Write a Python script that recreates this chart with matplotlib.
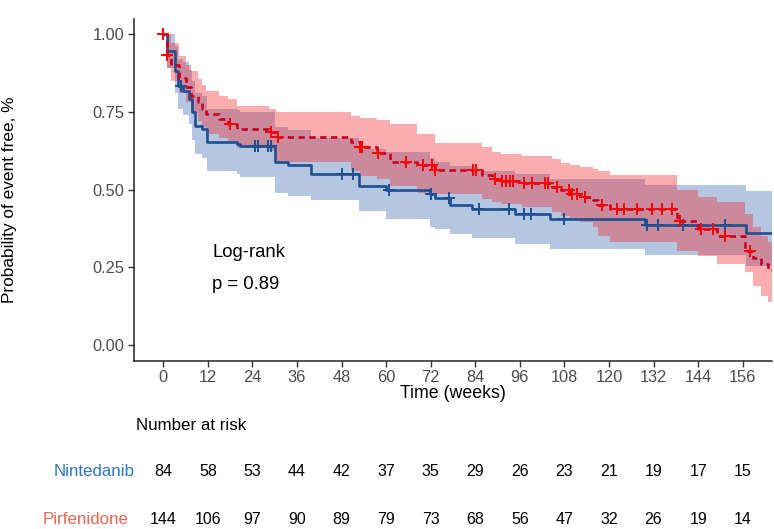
import numpy as np
import matplotlib
matplotlib.use("Agg")
import matplotlib.pyplot as plt
import matplotlib.transforms as mtransforms

plt.rcParams['font.family'] = ['Liberation Sans', 'DejaVu Sans']

# ---- Nintedanib (blue) : step times, survival, CI ----
nin_t = [0, 0.9, 3.1, 4.0, 5.4, 6.8, 7.7, 8.6, 10.3, 11.7, 19.8, 20.7, 30.0, 33.7,
         39.9, 52.6, 60.1, 71.8, 73.2, 77.2, 83.1, 94.8, 104.1, 129.7, 157.0]
nin_s = [1.0, 0.944, 0.882, 0.834, 0.818, 0.79, 0.75, 0.705, 0.694, 0.654, 0.646, 0.639,
         0.589, 0.579, 0.55, 0.51, 0.50, 0.486, 0.472, 0.45, 0.437, 0.421, 0.405, 0.386, 0.36]
nin_hi = [1.0, 1.0, 0.96, 0.92, 0.91, 0.885, 0.85, 0.81, 0.80, 0.76, 0.755, 0.75,
          0.70, 0.69, 0.665, 0.63, 0.62, 0.60, 0.59, 0.575, 0.56, 0.55, 0.535, 0.515, 0.494]
nin_lo = [1.0, 0.89, 0.81, 0.76, 0.74, 0.71, 0.66, 0.615, 0.60, 0.56, 0.55, 0.54,
          0.49, 0.48, 0.465, 0.43, 0.405, 0.38, 0.373, 0.357, 0.343, 0.325, 0.309, 0.29, 0.255]
nin_cens = [4.9, 24.7, 25.6, 28.1, 29.0, 48.1, 51.2, 60.9, 72.1, 77.0, 84.9, 93.1,
            97.0, 98.9, 108.0, 130.1, 133.3, 139.8, 151.1]

# ---- Pirfenidone (red) ----
pir_t = [0, 0.9, 2.2, 4.2, 6.2, 7.5, 9.3, 10.3, 11.5, 15.1, 17.3, 19.9, 28.4, 30.4,
         50.6, 53.0, 57.6, 61.0, 68.2, 73.2, 85.7, 88.4, 90.9, 96.5, 104.6, 107.2,
         109.6, 112.2, 115.8, 117.1, 120.3, 138.2, 144.0, 149.0, 156.6, 158.9, 160.9, 162.9]
pir_s = [1.0, 0.932, 0.90, 0.86, 0.83, 0.80, 0.78, 0.76, 0.743, 0.727, 0.71, 0.694, 0.684,
         0.668, 0.652, 0.636, 0.617, 0.587, 0.579, 0.564, 0.548, 0.534, 0.526, 0.52, 0.509,
         0.498, 0.487, 0.477, 0.465, 0.45, 0.437, 0.40, 0.373, 0.35, 0.303, 0.28, 0.26, 0.24]
pir_hi = [1.0, 1.0, 0.97, 0.93, 0.90, 0.88, 0.855, 0.835, 0.818, 0.80, 0.79, 0.77, 0.76,
          0.748, 0.737, 0.73, 0.725, 0.71, 0.678, 0.65, 0.636, 0.62, 0.615, 0.609, 0.597,
          0.585, 0.578, 0.571, 0.565, 0.56, 0.548, 0.50, 0.475, 0.46, 0.42, 0.38, 0.35, 0.33]
pir_lo = [1.0, 0.89, 0.85, 0.81, 0.78, 0.745, 0.72, 0.70, 0.68, 0.665, 0.65, 0.635, 0.625,
          0.59, 0.56, 0.545, 0.534, 0.51, 0.49, 0.486, 0.47, 0.459, 0.455, 0.445, 0.427,
          0.416, 0.405, 0.395, 0.38, 0.351, 0.33, 0.303, 0.287, 0.26, 0.234, 0.19, 0.158, 0.14]
pir_cens = [0.0, 0.95, 17.9, 29.0, 30.8, 53.0, 53.6, 57.9, 65.3, 70.0, 72.3, 73.2, 83.3,
            84.1, 89.3, 91.1, 92.4, 93.3, 94.2, 97.0, 99.2, 102.8, 103.7, 105.9, 109.1,
            110.0, 111.3, 113.5, 118.1, 122.1, 124.1, 127.6, 131.5, 134.2, 136.9, 139.1,
            144.9, 148.1, 151.1, 157.9]

risk_times = [0, 12, 24, 36, 48, 60, 72, 84, 96, 108, 120, 132, 144, 156]
nin_risk = [84, 58, 53, 44, 42, 37, 35, 29, 26, 23, 21, 19, 17, 15]
pir_risk = [144, 106, 97, 90, 89, 79, 73, 68, 56, 47, 32, 26, 19, 14]

XMAX = 163.8

fig = plt.figure(figsize=(7.74, 5.29), dpi=100)
ax = fig.add_axes([0.1735, 0.3181, 0.997 - 0.1735, 0.9635 - 0.3181])


def draw_group(t, s, lo, hi, cens, band_col, band_alpha, line_col, mark_col, ls):
    t = np.array(t + [XMAX])
    s = np.array(s + [s[-1]])
    lo = np.array(lo + [lo[-1]])
    hi = np.array(hi + [hi[-1]])
    ax.fill_between(t, lo, hi, step='post', color=band_col, alpha=band_alpha, lw=0)
    line, = ax.step(t, s, where='post', color=line_col, lw=1.9)
    if ls == 'dashed':
        line.set_dashes((2.4, 1.7))
    c = np.array(cens)
    idx = np.searchsorted(t, c, side='right') - 1
    ax.plot(c, s[idx], '+', color=mark_col, ms=8, mew=1.4)


# blue first, red drawn on top (blue line shows through the red band)
draw_group(nin_t, nin_s, nin_lo, nin_hi, nin_cens, '#2A5CA8', 0.35, '#1D4F91', '#1D4F91', 'solid')
draw_group(pir_t, pir_s, pir_lo, pir_hi, pir_cens, '#F0282D', 0.38, '#C8001E', '#FF0000', 'dashed')

ax.set_xlim(-7.8, XMAX)
ax.set_ylim(-0.05, 1.047)
ax.set_xticks(risk_times)
ax.set_yticks([0, 0.25, 0.5, 0.75, 1.0])
ax.set_yticklabels(['0.00', '0.25', '0.50', '0.75', '1.00'])
for side in ['top', 'right']:
    ax.spines[side].set_visible(False)
for side in ['left', 'bottom']:
    ax.spines[side].set_linewidth(1.1)
    ax.spines[side].set_color('#222222')
ax.tick_params(axis='both', direction='out', length=4, width=1, color='#333333',
               labelsize=11.8, labelcolor='#4D4D4D', pad=3)

ax.set_xlabel('Time (weeks)', fontsize=12.8, labelpad=0)

H = 529.0
fig.text(10 / 774, 1 - 200 / H, 'Probability of event free, %', fontsize=12.4,
         rotation=90, ha='center', va='center')

ax.text(13.2, 0.297, 'Log-rank', fontsize=13.3, va='center', ha='left')
ax.text(13.2, 0.196, 'p = 0.89', fontsize=13.3, va='center', ha='left')

# number at risk table
fig.text(136 / 774, 1 - 425 / H, 'Number at risk', fontsize=12.2, va='center', ha='left')
fig.text(135 / 774, 1 - 471.5 / H, 'Nintedanib', fontsize=12.2, va='center', ha='right',
         color='#2E75C0')
fig.text(129 / 774, 1 - 519 / H, 'Pirfenidone', fontsize=12.2, va='center', ha='right',
         color='#F0644F')
trans = mtransforms.blended_transform_factory(ax.transData, fig.transFigure)
for x, n1, n2 in zip(risk_times, nin_risk, pir_risk):
    ax.text(x, 1 - 471.5 / H, str(n1), transform=trans, fontsize=11.5, ha='center',
            va='center', clip_on=False)
    ax.text(x, 1 - 519 / H, str(n2), transform=trans, fontsize=11.5, ha='center',
            va='center', clip_on=False)

fig.savefig('out.png', dpi=100)
